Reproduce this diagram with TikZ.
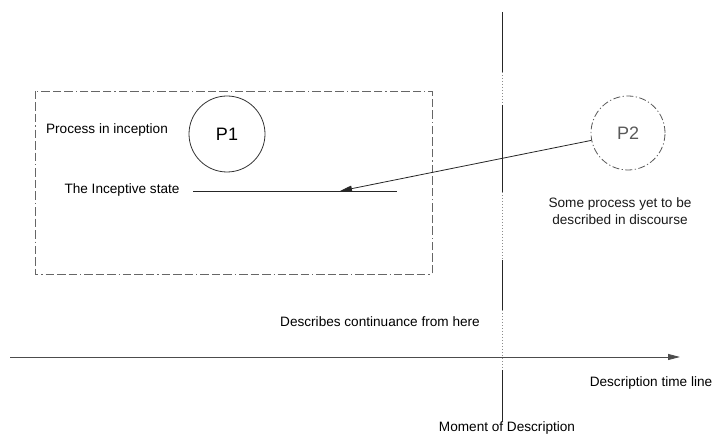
\documentclass[tikz,border=0pt]{standalone}
\usepackage{fontspec}
\setmainfont{Liberation Sans}
\usetikzlibrary{arrows.meta}
\begin{document}
\begin{tikzpicture}[x=1pt,y=-1pt,
  lbl/.style={font=\fontsize{13.6}{16.5}\selectfont, inner sep=0pt},
  procA/.style={circle, draw=black!80, line width=0.8pt, minimum size=76pt, inner sep=0pt, font=\fontsize{18}{21}\selectfont},
  procB/.style={circle, draw=black!65, line width=0.8pt, minimum size=74pt, inner sep=0pt, text=black!65, font=\fontsize{18}{21}\selectfont,
    dash pattern=on 7pt off 2.5pt on 1.2pt off 2.5pt},
  framebox/.style={draw=black!60, line width=0.8pt, dash pattern=on 8.5pt off 3pt on 8.5pt off 3pt on 8.5pt off 3pt on 1.2pt off 3pt},
  solidseg/.style={draw=black!85, line width=0.9pt},
  dotseg/.style={draw=black!45, line width=0.7pt, dash pattern=on 0.8pt off 2.2pt},
  tip/.style={-{Triangle[length=12pt,width=6pt]}}
]
\useasboundingbox (0,0) rectangle (720,435);

% frame around the inceptive process
\draw[framebox] (35,91) rectangle (432,274);

% processes
\node[procA] (p1) at (227,134) {P1};
\node[procB] (p2) at (628,133) {P2};

% labels
\node[lbl] (lproc) at (107,130) {Process in inception};
\node[lbl] (lstate) at (122,190) {The Inceptive state};
\node[lbl, align=center, text=black!90] (lsome) at (620,211) {Some process yet to be\\described in discourse};
\node[lbl] (lcont) at (380,322) {Describes continuance from here};
\node[lbl] (ltime) at (651,383) {Description time line};
\node[lbl] (lmom) at (507,428) {Moment of Description};

% inceptive state line
\coordinate (is1) at (193,191);
\coordinate (is2) at (397,191);
\coordinate (hit) at (340,191);
\draw[black!85, line width=0.8pt] (is1) -- (is2);

% moment of description (vertical line)
\draw[solidseg] (502,12) -- (502,72);
\draw[dotseg]   (502,72) -- (502,105);
\draw[solidseg] (502,105) -- (502,192);
\draw[dotseg]   (502,192) -- (502,260);
\draw[solidseg] (502,260) -- (502,310);
\draw[dotseg]   (502,310) -- (502,370);
\draw[solidseg] (502,370) -- (502,422);

% process P2 pointing into the inceptive state
\draw[tip, black!85, line width=0.8pt] (p2) -- (hit);

% description time line
\coordinate (t0) at (10,357);
\coordinate (t1) at (680,357);
\draw[tip, black!70, line width=0.9pt] (t0) -- (t1);
\end{tikzpicture}
\end{document}
